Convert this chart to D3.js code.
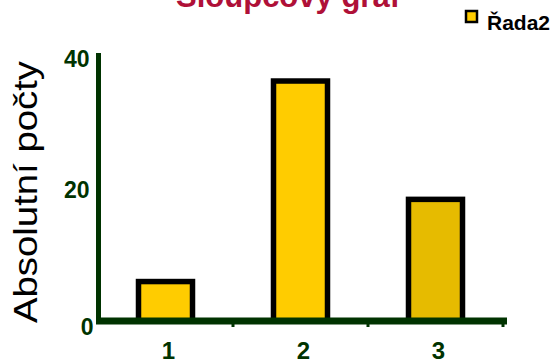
<!DOCTYPE html>
<html><head><meta charset="utf-8">
<script src="https://cdn.jsdelivr.net/npm/d3@7"></script>
<style>html,body{margin:0;padding:0;background:#fff;}svg{display:block;}</style>
</head><body>
<script>
const categories = ["1", "2", "3"];
const values = [6, 36.5, 18.5];
const barColors = ["#FFCC00", "#FFCC00", "#E6BB00"];
const yTicks = [0, 20, 40];
const titleText = "Sloupcový graf";
const yTitle = "Absolutní počty";
const seriesName = "Řada2";

const W = 552, H = 362;
const svg = d3.select("body").append("svg").attr("width", W).attr("height", H);
const green = "#003300";
const font = "Liberation Sans, Arial, sans-serif";

const x = d3.scaleBand().domain(categories).range([98, 503]).padding(0);
const y = d3.scaleLinear().domain([0, 40]).range([321, 58]);

// title (partly off canvas, as in the reference)
svg.append("text").attr("x", 288).attr("y", 7).attr("text-anchor", "middle")
  .attr("font-family", font).attr("font-weight", "bold")
  .attr("font-size", 31).attr("fill", "#AF1038").text(titleText);

// bars
const bw = x.bandwidth() * 0.4;
svg.selectAll("rect.bar").data(values).enter().append("rect")
  .attr("class", "bar")
  .attr("x", (d, i) => x(categories[i]) + (x.bandwidth() - bw) / 2)
  .attr("y", d => y(d))
  .attr("width", bw)
  .attr("height", d => y(0) - y(d))
  .attr("fill", (d, i) => barColors[i])
  .attr("stroke", "#000").attr("stroke-width", 5.5);

// y axis
const yAxis = d3.axisLeft(y).tickValues(yTicks).tickSize(0).tickPadding(9);
const gy = svg.append("g").attr("transform", "translate(98.5,0)").call(yAxis);
gy.select(".domain").remove();
gy.append("line").attr("x1", 0).attr("x2", 0).attr("y1", 53).attr("y2", 324)
  .attr("stroke", green).attr("stroke-width", 5);
gy.selectAll(".tick text")
  .attr("font-family", font).attr("font-weight", "bold")
  .attr("font-size", 23).attr("fill", green)
  .attr("dx", d => d === 0 ? 4 : 0)
  .attr("dy", d => d === 0 ? "0.58em" : "0.35em");

// x axis
const xAxis = d3.axisBottom(x).tickSize(0).tickPadding(21);
const gx = svg.append("g").attr("transform", "translate(0,321)").call(xAxis);
gx.select(".domain").remove();
gx.append("line").attr("x1", 96).attr("x2", 507).attr("y1", 0).attr("y2", 0)
  .attr("stroke", green).attr("stroke-width", 7);
gx.selectAll(".bnd").data(categories).enter().append("line")
  .attr("x1", d => x(d) + x.bandwidth()).attr("x2", d => x(d) + x.bandwidth())
  .attr("y1", 0).attr("y2", 6).attr("stroke", green).attr("stroke-width", 3);
gx.selectAll(".tick text")
  .attr("font-family", font).attr("font-weight", "bold")
  .attr("font-size", 24).attr("fill", green).attr("dx", 3);

// y title
svg.append("text")
  .attr("transform", "translate(37,192) rotate(-90)")
  .attr("text-anchor", "middle")
  .attr("font-family", font)
  .attr("font-size", 33).attr("fill", "#000")
  .attr("textLength", 262).attr("lengthAdjust", "spacingAndGlyphs")
  .text(yTitle);

// legend
const lg = svg.append("g");
lg.append("rect").attr("x", 466).attr("y", 11).attr("width", 11).attr("height", 11)
  .attr("fill", barColors[0]).attr("stroke", "#000").attr("stroke-width", 2.5);
lg.append("text").attr("x", 487).attr("y", 30)
  .attr("font-family", font).attr("font-weight", "bold")
  .attr("font-size", 21).attr("fill", "#000").text(seriesName);
</script>
</body></html>
